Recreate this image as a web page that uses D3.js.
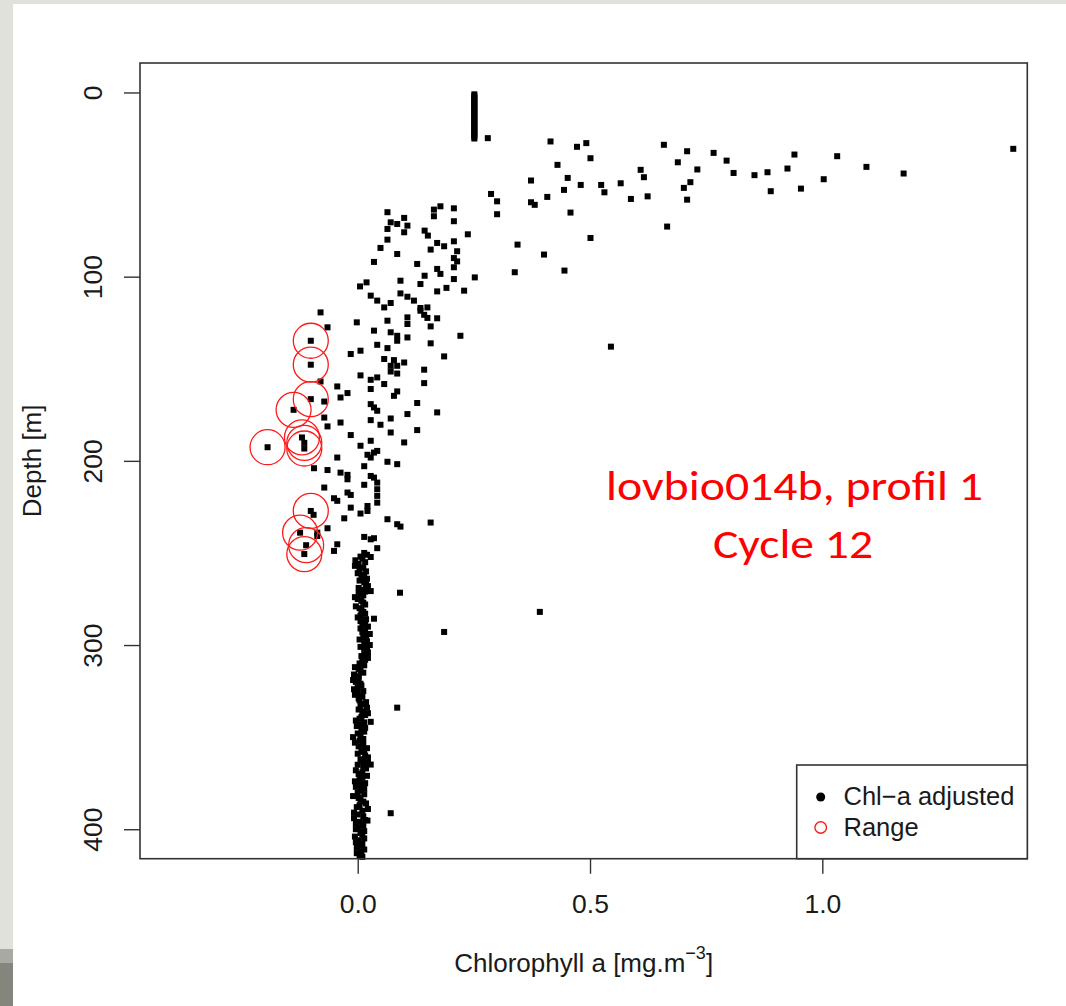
<!DOCTYPE html>
<html><head><meta charset="utf-8">
<script src="https://cdn.jsdelivr.net/npm/d3@7"></script>
<style>body{margin:0;background:#fff} svg{display:block}</style>
</head><body>
<svg id="chart" width="1066" height="1006"></svg>
<script>
// ---- data: [chlorophyll a (mg.m-3), depth (m)] ----
const surfaceBar = [[0.251,1],[0.251,2],[0.251,3],[0.251,4],[0.251,5],[0.251,6],[0.251,7],[0.251,8],[0.251,9],[0.251,10],
  [0.251,11],[0.251,12],[0.251,13],[0.251,14],[0.251,15],[0.251,16],[0.251,17],[0.251,18],[0.251,19],[0.251,20],
  [0.251,21],[0.251,22],[0.251,23],[0.251,24],[0.251,25]];
const upperLayer = [[0.280,24.8],[0.415,26.6],[0.472,29.5],[0.492,27.5],[0.501,35.7],[0.430,39.3],[0.373,47.8],[0.452,46.4],
  [0.480,50.2],[0.444,52.9],[0.408,56.7],[0.373,59.6],[0.381,61.0],[0.524,50.2],[0.531,54.2],[0.566,49.3],[0.588,57.8],
  [0.609,42.0],[0.616,46.0],[0.624,56.4],[0.458,65.2],[0.501,79.0],[0.287,55.1],[0.300,59.1],[0.300,66.1],[0.344,82.6],
  [0.401,88.0],[0.338,97.6],[0.445,96.7],[1.411,30.6],[0.659,28.4],[0.709,31.9],[0.766,32.8],[0.794,37.0],[0.731,41.8],
  [0.689,37.9],[0.716,48.7],[0.702,51.8],[0.709,58.2],[0.809,43.7],[0.854,44.9],[0.882,43.3],[0.889,53.6],[0.940,33.7],
  [0.925,41.3],[0.954,52.2],[1.003,47.1],[1.032,34.6],[1.095,40.4],[1.175,44.0],[0.666,72.8]];
const midLayer = [[0.237,77.0],[0.207,62.9],[0.207,69.9],[0.178,61.8],[0.164,63.6],[0.164,67.2],[0.207,80.8],[0.214,86.2],
  [0.207,89.9],[0.214,91.7],[0.207,94.9],[0.207,101.3],[0.252,100.4],[0.229,107.6],[0.171,81.7],[0.186,83.5],[0.157,85.3],
  [0.144,75.0],[0.151,77.7],[0.128,93.1],[0.171,95.8],[0.178,98.5],[0.144,99.5],[0.135,104.0],[0.191,106.1],[0.171,108.0],
  [0.092,102.2],[0.085,87.7],[0.064,65.0],[0.071,70.5],[0.064,74.1],[0.085,71.4],[0.100,68.1],[0.107,72.3],[0.100,75.9],
  [0.064,79.9],[0.049,84.4],[0.035,92.0],[0.005,105.3],[0.019,103.1],[0.028,110.3],[0.042,113.0],[0.057,116.7],[0.071,114.3],
  [0.092,109.1],[0.107,110.9],[0.121,113.0],[0.135,117.0],[0.150,116.7],[-0.080,119.4]];
const lowerLayer = [[0.135,118.5],[0.143,120.7],[0.150,122.4],[0.171,122.6],[0.157,127.0],[0.107,122.1],[0.107,125.7],[0.064,123.9],
  [-0.002,124.8],[0.035,129.3],[0.071,130.2],[0.085,132.1],[0.085,134.8],[0.107,133.0],[0.221,132.1],[0.157,136.2],[0.186,143.3],
  [0.042,137.0],[0.064,138.8],[0.006,140.2],[-0.015,142.0],[0.057,144.7],[0.078,145.3],[0.071,148.4],[0.071,151.5],[0.085,148.4],
  [0.100,146.6],[0.085,152.6],[0.143,150.5],[0.143,157.8],[0.006,153.6],[0.028,156.0],[0.042,154.7],[0.028,161.0],[0.057,158.3],
  [0.085,162.3],[0.078,164.7],[-0.044,159.6],[-0.022,163.2],[-0.037,165.6],[0.128,168.6],[0.028,169.2],[0.035,171.0],[0.042,172.8],
  [0.107,174.6],[0.171,173.7],[0.071,177.0],[0.028,177.9],[0.049,180.4],[-0.037,179.2],[0.128,183.3],[0.071,184.6],[-0.015,186.0],
  [0.028,189.1],[0.100,190.0],[0.006,191.8],[0.021,196.7],[0.035,195.5],[0.042,194.6],[0.028,198.2],[0.014,202.9],[0.064,200.5],
  [0.085,201.8],[-0.044,198.2],[-0.065,205.0],[-0.037,206.4],[-0.022,207.6],[-0.022,210.0],[0.028,208.2],[0.035,209.1],[0.014,213.0],
  [0.042,211.8],[0.042,215.4],[0.042,219.0],[0.042,222.7],[-0.072,214.5],[-0.022,217.2],[-0.015,218.5],[-0.051,220.3],[-0.044,221.7],
  [0.021,224.5],[0.021,227.2],[0.006,228.6],[-0.015,225.4],[-0.029,231.2],[0.064,231.7],[0.085,234.4],[0.092,235.7],[0.157,233.5],
  [-0.065,236.6],[-0.044,245.3],[-0.051,248.9],[0.014,241.3],[0.028,242.6],[0.035,242.0],[0.042,247.4],[0.028,252.2],
  [-0.065,127.5],[-0.080,156.9],[-0.072,167.8],[-0.072,176.5],[-0.065,181.3],[-0.094,204.0],[-0.087,239.0],[-0.087,240.8],[-0.095,229.3]];
const deepLayerEven = [[0.014,250],[0.006,252],[-0.005,254],[0.002,256],[0.012,258],[0.018,260],[0.008,262],[0.020,264],[0.014,266],
  [0.022,268],[0.010,270],[0.002,272],[-0.006,274],[0.008,276],[0.016,278],[0.004,280],[0.012,282],[0.006,284],[0.018,286],
  [0.010,288],[0.022,290],[0.016,292],[0.026,294],[0.012,296],[0.020,298],[0.026,300],[0.014,302],[0.022,304],[0.008,306],
  [0.016,308],[0.004,310],[-0.006,312],[0.006,314],[-0.008,316],[0.002,318],[-0.004,320],[0.008,322],[-0.008,324],[0.000,326],
  [0.010,328],[0.004,330],[0.014,332],[0.020,334],[0.010,336],[0.016,338],[0.004,340],[0.014,342],[-0.002,344],[0.008,346],
  [0.000,348],[-0.010,350],[0.004,352],[0.012,354],[0.020,356],[0.008,358],[0.016,360],[0.006,362],[0.022,364],[0.012,366],
  [-0.004,368],[0.002,370],[0.010,372],[-0.006,374],[0.006,376],[0.014,378],[0.000,380],[-0.010,382],[0.006,384],[0.018,386],
  [-0.002,388],[0.010,390],[0.000,392],[-0.008,394],[0.004,396],[0.012,398],[-0.004,400],[0.006,402],[-0.006,404],[0.002,406],
  [0.010,408],[-0.002,410],[0.008,412],[0.004,414]];
const deepLayerOdd = [[0.020,251],[0.010,253],[0.016,255],[-0.006,257],[0.004,259],[0.000,261],[0.014,263],[0.004,265],[0.018,267],
  [0.002,269],[0.016,271],[0.012,273],[0.000,275],[0.012,277],[-0.004,279],[0.008,281],[0.016,283],[0.000,285],[0.006,287],
  [0.016,289],[0.006,291],[0.010,293],[0.018,295],[0.004,297],[0.014,299],[0.006,301],[0.020,303],[0.014,305],[0.022,307],
  [0.010,309],[0.014,311],[0.002,313],[0.012,315],[0.002,317],[-0.010,319],[0.006,321],[0.000,323],[0.012,325],[-0.006,327],
  [0.002,329],[0.018,331],[0.006,333],[0.002,335],[0.022,337],[0.008,339],[-0.004,341],[0.006,343],[0.016,345],[0.014,347],
  [0.006,349],[0.012,351],[-0.006,353],[0.002,355],[0.014,357],[0.000,359],[0.022,361],[0.010,363],[0.000,365],[0.018,367],
  [0.010,369],[0.020,371],[0.004,373],[0.016,375],[-0.004,377],[0.008,379],[0.014,381],[0.002,383],[0.012,385],[0.004,387],
  [0.022,389],[-0.008,391],[0.012,393],[0.016,395],[-0.004,397],[0.002,399],[0.014,401],[0.010,403],[0.014,405],[-0.004,407],
  [0.006,409],[0.014,411],[-0.002,413],[0.010,415]];
const outliers = [[0.545,138.0],[0.392,282.0],[0.186,292.9],[0.091,271.6],[0.085,334.0],[0.071,391.3],[0.028,270.7],[0.035,285.7],
  [0.028,341.7],[0.028,364.9],[0.021,395.3]];
const rangeFlagged = [[-0.101,134.8],[-0.101,147.8],[-0.101,166.5],[-0.138,172.3],[-0.120,187.3],[-0.115,190.2],[-0.115,193.3],
  [-0.194,192.6],[-0.101,227.2],[-0.124,239.0],[-0.111,245.8],[-0.115,250.6]];
const xTicks = [0.0, 0.5, 1.0];
const yTicks = [0, 100, 200, 300, 400];
const xLimits = [-0.4686, 1.4412];
const yLimits = [-16, 416];
const legendLabels = ["Chl\u2212a adjusted", "Range"];
const noteLines = ["lovbio014b, profil 1", "Cycle 12"];

// ---- drawing ----
const svg = d3.select("#chart");
const frame = {left: 140, right: 1027.3, top: 63, bottom: 858.7};
const x = d3.scaleLinear().domain(xLimits).range([frame.left, frame.right]);
const y = d3.scaleLinear().domain(yLimits).range([frame.top, frame.bottom]);
const axisFont = "'Liberation Sans', Arial, Helvetica, sans-serif";
const ink = "#1a1a1a";

// page background (slide edges)
svg.append("rect").attr("width", 1066).attr("height", 1006).attr("fill", "#ffffff");
svg.append("rect").attr("x", 0).attr("y", 0).attr("width", 1066).attr("height", 4).attr("fill", "#e1e1dc");
svg.append("rect").attr("x", 0).attr("y", 0).attr("width", 13).attr("height", 949).attr("fill", "#e1e1dc");
svg.append("rect").attr("x", 0).attr("y", 949).attr("width", 13).attr("height", 14).attr("fill", "#a8a9a3");
svg.append("rect").attr("x", 0).attr("y", 963).attr("width", 13).attr("height", 43).attr("fill", "#84857c");

// points
const allPts = [].concat(surfaceBar, upperLayer, midLayer, lowerLayer, deepLayerEven, deepLayerOdd, outliers, rangeFlagged);
const sq = 6;
svg.append("g").selectAll("rect").data(allPts).join("rect")
  .attr("x", d => x(d[0]) - sq/2).attr("y", d => y(d[1]) - sq/2)
  .attr("width", sq).attr("height", sq).attr("fill", "#000");

svg.append("g").selectAll("circle").data(rangeFlagged).join("circle")
  .attr("cx", d => x(d[0])).attr("cy", d => y(d[1])).attr("r", 17.5)
  .attr("fill", "none").attr("stroke", "#ff1a1a").attr("stroke-width", 1.3);

// axes
const xAxis = svg.append("g").attr("transform", `translate(0,${frame.bottom})`)
  .call(d3.axisBottom(x).tickValues(xTicks).tickSize(15).tickFormat(d3.format(".1f")));
xAxis.select(".domain").remove();
xAxis.selectAll("line").attr("stroke", "#333").attr("stroke-width", 1.4);
xAxis.selectAll("text").attr("y", 54).attr("dy", null)
  .attr("font-family", axisFont).attr("font-size", 26.5).attr("fill", ink);

const yAxis = svg.append("g").attr("transform", `translate(${frame.left},0)`)
  .call(d3.axisLeft(y).tickValues(yTicks).tickSize(16).tickFormat(d3.format("d")));
yAxis.select(".domain").remove();
yAxis.selectAll("line").attr("stroke", "#333").attr("stroke-width", 1.4);
yAxis.selectAll("text").attr("x", null).attr("dy", null)
  .attr("transform", "translate(-38,0) rotate(-90)").attr("text-anchor", "middle")
  .attr("font-family", axisFont).attr("font-size", 26.5).attr("fill", ink);

// frame
svg.append("rect").attr("x", frame.left).attr("y", frame.top)
  .attr("width", frame.right - frame.left).attr("height", frame.bottom - frame.top)
  .attr("fill", "none").attr("stroke", "#333").attr("stroke-width", 1.6);

// axis titles
const xt = svg.append("text").attr("x", (frame.left + frame.right)/2).attr("y", 971.5)
  .attr("text-anchor", "middle").attr("font-family", axisFont).attr("font-size", 26).attr("fill", ink);
xt.append("tspan").text("Chlorophyll a [mg.m");
xt.append("tspan").attr("dy", -13).attr("font-size", 18).text("\u22123");
xt.append("tspan").attr("dy", 13).text("]");

svg.append("text").attr("transform", `translate(41,${(frame.top + frame.bottom)/2}) rotate(-90)`)
  .attr("text-anchor", "middle").attr("font-family", axisFont).attr("font-size", 26).attr("fill", ink)
  .text("Depth [m]");

// legend
const lg = svg.append("g");
lg.append("rect").attr("x", 796.7).attr("y", 765).attr("width", frame.right - 796.7).attr("height", frame.bottom - 765)
  .attr("fill", "#fff").attr("stroke", "#333").attr("stroke-width", 1.6);
lg.append("circle").attr("cx", 820.7).attr("cy", 797).attr("r", 4.5).attr("fill", "#000");
lg.append("circle").attr("cx", 820.7).attr("cy", 827.5).attr("r", 5.8).attr("fill", "none")
  .attr("stroke", "#ff1a1a").attr("stroke-width", 1.4);
lg.selectAll("text.lab").data(legendLabels).join("text").attr("class", "lab")
  .attr("x", 843.5).attr("y", (d, i) => 805 + i * 30.8)
  .attr("font-family", axisFont).attr("font-size", 25.5).attr("fill", ink).text(d => d);

// annotation
const noteFont = "Carlito, Lato, 'Open Sans', sans-serif";
svg.append("text").attr("x", 794.5).attr("y", 500).attr("text-anchor", "middle")
  .attr("font-family", noteFont).attr("font-size", 40).attr("fill", "#ff0000")
  .attr("textLength", 377).attr("lengthAdjust", "spacingAndGlyphs").text(noteLines[0]);
svg.append("text").attr("x", 793).attr("y", 558).attr("text-anchor", "middle")
  .attr("font-family", noteFont).attr("font-size", 40).attr("fill", "#ff0000")
  .attr("textLength", 160).attr("lengthAdjust", "spacingAndGlyphs").text(noteLines[1]);
</script>
</body></html>
